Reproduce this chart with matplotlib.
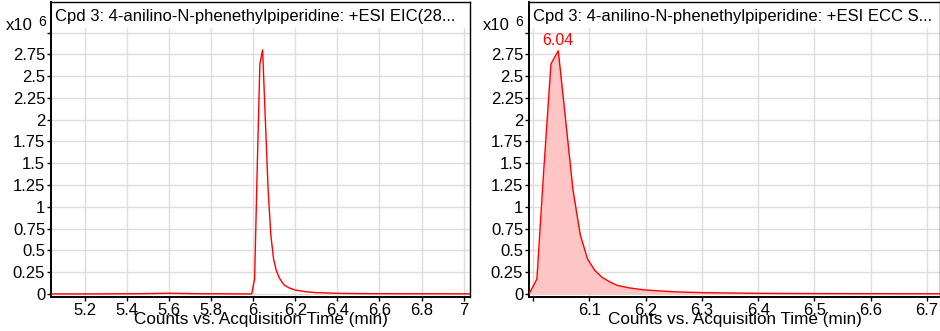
import numpy as np
import matplotlib
matplotlib.use("Agg")
import matplotlib.pyplot as plt

plt.rcParams['font.family'] = ['Liberation Sans', 'DejaVu Sans']

#EIC trace (left panel), counts in units of 1e6
eic_time = [5.04, 5.2, 5.4, 5.5, 5.6, 5.7, 5.8, 5.9, 5.98, 5.993, 6.007, 6.019, 6.032, 6.045,
            6.058, 6.071, 6.084, 6.097, 6.110, 6.123, 6.136, 6.149, 6.17, 6.2, 6.25, 6.3,
            6.4, 6.5, 6.6, 6.8, 7.03]
eic_counts = [0.0, 0.0, 0.002, 0.004, 0.008, 0.004, 0.002, 0.001, 0.0, 0.0, 0.17, 1.4, 2.64, 2.80,
              2.0, 1.2, 0.68, 0.40, 0.27, 0.19, 0.14, 0.10, 0.07, 0.045, 0.025, 0.015,
              0.007, 0.004, 0.003, 0.002, 0.001]

#ECC trace (right panel)
ecc_time = [5.993, 6.007, 6.019, 6.032, 6.045, 6.058, 6.071, 6.084, 6.097, 6.110, 6.123,
            6.136, 6.149, 6.17, 6.2, 6.25, 6.3, 6.4, 6.5, 6.6, 6.73]
ecc_counts = [0.0, 0.17, 1.4, 2.64, 2.79, 2.0, 1.2, 0.68, 0.40, 0.27, 0.19,
              0.14, 0.10, 0.07, 0.045, 0.025, 0.015, 0.007, 0.004, 0.003, 0.002]

peak_label = "6.04"
titles = ["Cpd 3: 4-anilino-N-phenethylpiperidine: +ESI EIC(28...",
          "Cpd 3: 4-anilino-N-phenethylpiperidine: +ESI ECC S..."]
xlabel = "Counts vs. Acquisition Time (min)"

y_ticks = [0, 0.25, 0.5, 0.75, 1, 1.25, 1.5, 1.75, 2, 2.25, 2.5, 2.75, 3.0]
y_labels = ["0", "0.25", "0.5", "0.75", "1", "1.25", "1.5", "1.75", "2", "2.25", "2.5", "2.75", ""]
left_xticks = [5.2, 5.4, 5.6, 5.8, 6.0, 6.2, 6.4, 6.6, 6.8, 7.0]
left_xlabels = ["5.2", "5.4", "5.6", "5.8", "6", "6.2", "6.4", "6.6", "6.8", "7"]
right_xticks = [6.0, 6.1, 6.2, 6.3, 6.4, 6.5, 6.6, 6.7]
right_xlabels = ["", "6.1", "6.2", "6.3", "6.4", "6.5", "6.6", "6.7"]

fig = plt.figure(figsize=(9.4, 3.31), dpi=100)
ax1 = fig.add_axes([51/940, 34/331, 419/940, 295/331])
ax2 = fig.add_axes([529/940, 34/331, 411/940, 295/331])

def style(ax, title, xticks, xlabels, xlim):
    ax.set_xlim(xlim)
    ax.set_ylim(-0.035, 3.35)
    ax.set_yticks(y_ticks)
    ax.set_yticklabels(y_labels)
    ax.set_xticks(xticks)
    ax.set_xticklabels(xlabels)
    ax.tick_params(labelsize=12, length=3, width=1, pad=1.2, colors='black')
    ax.grid(True, color='#dddddd', lw=1)
    ax.set_axisbelow(True)
    ax.axhspan(3.06, 3.35, color='white', zorder=1)
    for s in ax.spines.values():
        s.set_color('black')
        s.set_linewidth(1)
    ax.spines['left'].set_linewidth(1.4)
    ax.spines['bottom'].set_linewidth(1.4)
    ax.text(0.01, 0.975, title, transform=ax.transAxes, ha='left', va='top',
            fontsize=12, zorder=5)
    ax.set_xlabel(xlabel, fontsize=12.3, labelpad=-4.5)

style(ax1, titles[0], left_xticks, left_xlabels, (5.04, 7.03))
ax1.plot(eic_time, eic_counts, color='red', lw=1, zorder=3)

style(ax2, titles[1], right_xticks, right_xlabels, (5.993, 6.723))
ax2.fill_between(ecc_time, ecc_counts, 0, color='#ffc4c4', zorder=2, lw=0)
ax2.plot(ecc_time, ecc_counts, color='red', lw=1, zorder=3)
i_max = int(np.argmax(ecc_counts))
ax2.annotate(peak_label, (ecc_time[i_max], ecc_counts[i_max]), xytext=(0, 2),
             textcoords='offset points', ha='center', va='bottom', color='red', fontsize=11.5)

#exponent labels
for x0 in [6, 483]:
    fig.text(x0/940, 1 - 30/331, "x10", fontsize=12, ha='left', va='baseline')
    fig.text((x0 + 32)/940, 1 - 26/331, "6", fontsize=10, ha='left', va='baseline')

fig.savefig("out.png", dpi=100)
